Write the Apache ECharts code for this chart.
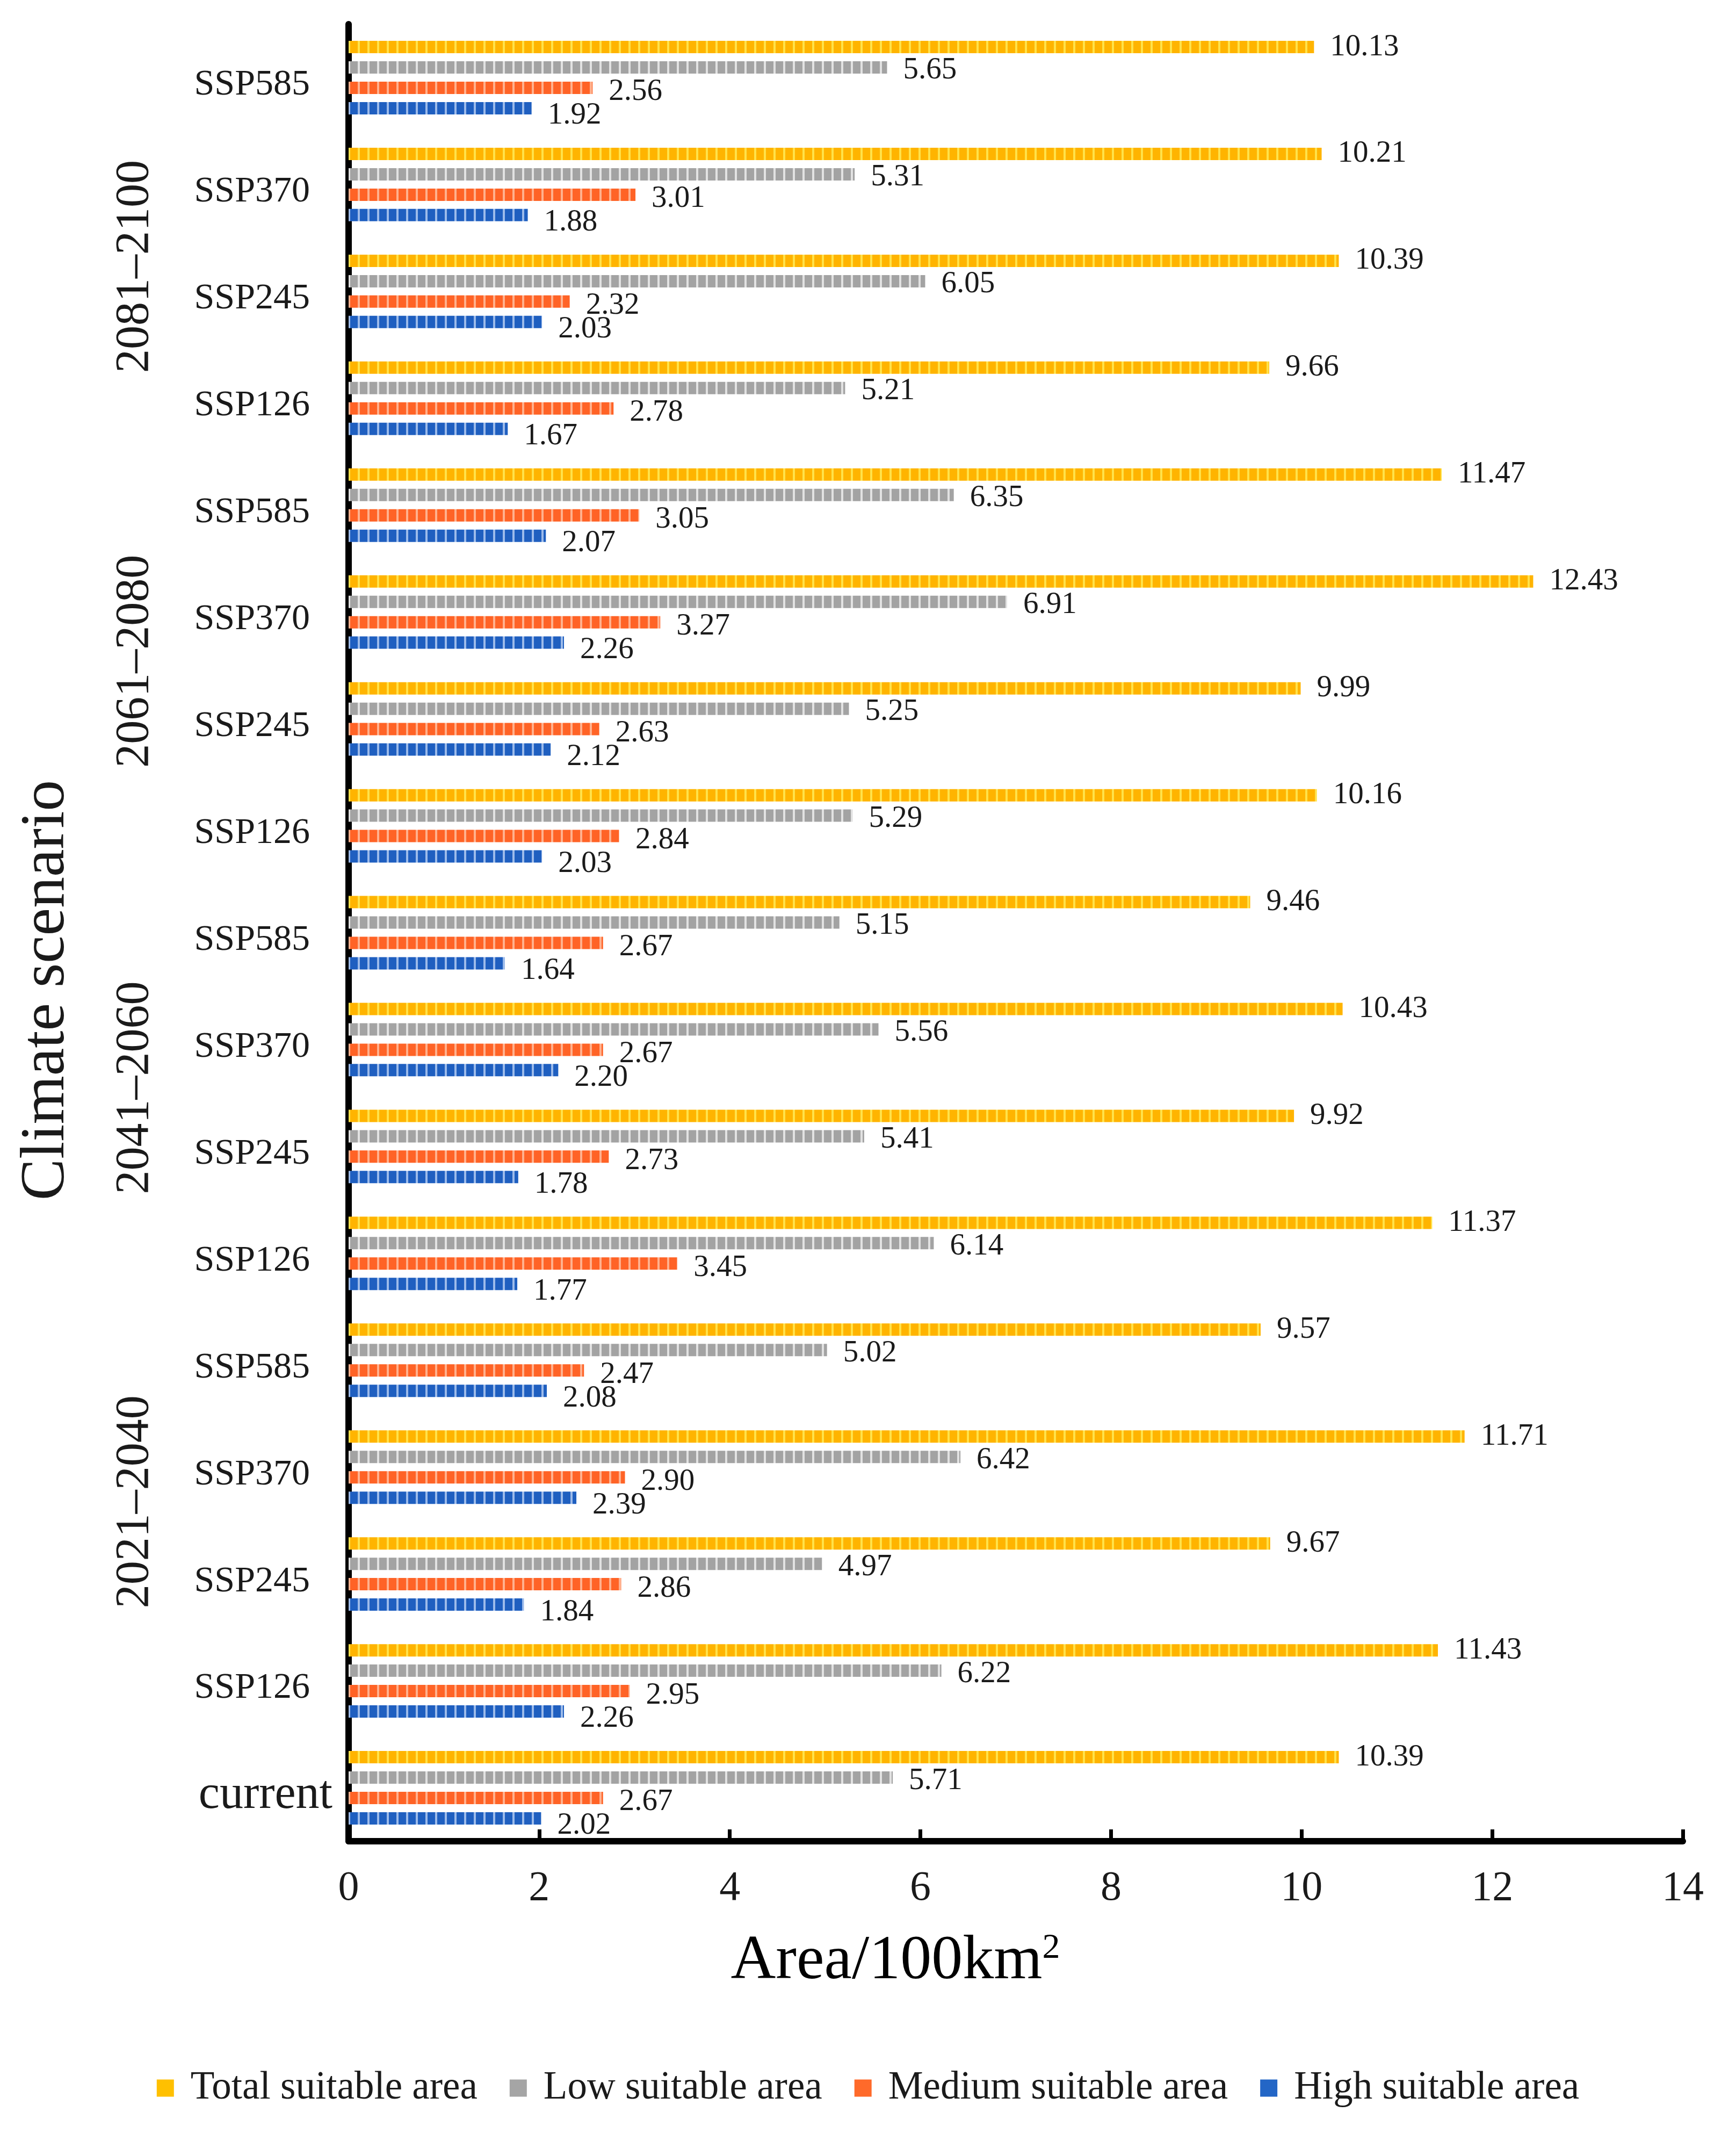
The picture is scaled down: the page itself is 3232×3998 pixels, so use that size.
<!DOCTYPE html>
<html><head><meta charset="utf-8">
<script src="https://cdn.jsdelivr.net/npm/echarts@6/dist/echarts.min.js"></script>
<style>html,body{margin:0;padding:0;background:#fff}#c{width:3232px;height:3998px}</style>
</head><body><div id="c"></div>
<script>
// Categories from bottom (current) to top
const categories = ['current',
  'SSP126','SSP245','SSP370','SSP585',
  'SSP126','SSP245','SSP370','SSP585',
  'SSP126','SSP245','SSP370','SSP585',
  'SSP126','SSP245','SSP370','SSP585'];
const periods = ['2021–2040','2041–2060','2061–2080','2081–2100'];
const seriesNames = ['Total suitable area','Low suitable area','Medium suitable area','High suitable area'];
const totalArea  = [10.39, 11.43, 9.67, 11.71, 9.57, 11.37, 9.92, 10.43, 9.46, 10.16, 9.99, 12.43, 11.47, 9.66, 10.39, 10.21, 10.13];
const lowArea    = [5.71, 6.22, 4.97, 6.42, 5.02, 6.14, 5.41, 5.56, 5.15, 5.29, 5.25, 6.91, 6.35, 5.21, 6.05, 5.31, 5.65];
const mediumArea = [2.67, 2.95, 2.86, 2.90, 2.47, 3.45, 2.73, 2.67, 2.67, 2.84, 2.63, 3.27, 3.05, 2.78, 2.32, 3.01, 2.56];
const highArea   = [2.02, 2.26, 1.84, 2.39, 2.08, 1.77, 1.78, 2.20, 1.64, 2.03, 2.12, 2.26, 2.07, 1.67, 2.03, 1.88, 1.92];
const xTicks = [0, 2, 4, 6, 8, 10, 12, 14];

const FONT = "'Liberation Serif','Times New Roman',serif";
const keys = categories.map((c, i) => i + '@' + c);

function stripe(base, line) {
  const cv = document.createElement('canvas');
  cv.width = 18; cv.height = 18;
  const g = cv.getContext('2d');
  g.fillStyle = base; g.fillRect(0, 0, 18, 18);
  g.fillStyle = line; g.fillRect(0, 0, 4, 18);
  return { image: cv, repeat: 'repeat' };
}
const solid = ['#FFC000', '#A5A5A5', '#FF6A2A', '#2366C6'];
const pats = [stripe('#FFB400', '#FFE24A'), stripe('#A3A3A3', '#E2E2E2'), stripe('#FF6326', '#FFB18E'), stripe('#1F5FC0', '#9DBBEA')];
const dataSets = [totalArea, lowArea, mediumArea, highArea];
const offs = [[0, 0], [0, 6], [0, 8], [0, 14]];

const chart = echarts.init(document.getElementById('c'), null, { renderer: 'canvas' });
const option = {
  backgroundColor: '#ffffff',
  animation: false,
  textStyle: { fontFamily: FONT },
  grid: { left: 649, right: 99, top: 45, bottom: 571, containLabel: false },
  legend: {
    bottom: 70, left: 'center', itemGap: 60, itemWidth: 32, itemHeight: 32, icon: 'rect',
    textStyle: { fontFamily: FONT, fontSize: 73, color: '#1a1a1a', padding: [0, 0, 0, 26] },
    data: seriesNames.map((n, i) => ({ name: n, itemStyle: { color: solid[i] } }))
  },
  xAxis: {
    type: 'value', min: 0, max: 14, interval: 2,
    axisLine: { show: true, lineStyle: { color: '#000', width: 12 } },
    axisTick: { show: true, inside: true, length: 22, lineStyle: { color: '#000', width: 7 } },
    splitLine: { show: false },
    axisLabel: { fontFamily: FONT, fontSize: 78, color: '#1a1a1a', margin: 50,
      customValues: xTicks, formatter: v => String(v) }
  },
  yAxis: {
    type: 'category', data: keys,
    axisLine: { show: true, lineStyle: { color: '#000', width: 12 } },
    axisTick: { show: false },
    axisLabel: {
      fontFamily: FONT, fontSize: 68, color: '#1a1a1a', margin: 30, padding: [28, 0, 0, 0],
      formatter: v => { const n = v.split('@')[1]; return n === 'current' ? '{cur|current}' : '{ssp|' + n + '}'; },
      rich: {
        cur: { fontFamily: FONT, fontSize: 88, color: '#1a1a1a' },
        ssp: { fontFamily: FONT, fontSize: 68, color: '#1a1a1a', padding: [0, 42, 0, 0] }
      }
    }
  },
  series: seriesNames.map((n, i) => ({
    name: n, type: 'bar', data: dataSets[i],
    barWidth: 23, barGap: '65%',
    itemStyle: { color: pats[i] },
    label: { show: true, position: 'right', distance: 30, offset: offs[i],
      fontFamily: FONT, fontSize: 57, color: '#1a1a1a',
      formatter: p => p.value.toFixed(2) }
  }))
};
chart.setOption(option);

// period labels & axis titles
const groupIdx = [[1, 4], [5, 8], [9, 12], [13, 16]];
const groupShift = [-35, -10, -8, 53];
const gfx = periods.map((p, i) => {
  const y = (chart.convertToPixel({ yAxisIndex: 0 }, keys[groupIdx[i][0]]) + chart.convertToPixel({ yAxisIndex: 0 }, keys[groupIdx[i][1]])) / 2 + groupShift[i];
  return { type: 'text', x: 252, y: y, rotation: Math.PI / 2,
    style: { text: p, font: '88px ' + FONT, fill: '#1a1a1a', align: 'center', verticalAlign: 'middle' } };
});
gfx.push({ type: 'text', x: 88, y: 1843, rotation: Math.PI / 2,
  style: { text: 'Climate scenario', font: '116px ' + FONT, fill: '#1a1a1a', align: 'center', verticalAlign: 'middle' } });
gfx.push({ type: 'text', x: 1667, y: 3652,
  style: { text: '{a|Area/100km}{s|2}', align: 'center', verticalAlign: 'middle',
    rich: { a: { fontFamily: FONT, fontSize: 116, color: '#1a1a1a' },
            s: { fontFamily: FONT, fontSize: 66, color: '#1a1a1a', verticalAlign: 'top', padding: [0, 0, 50, 0] } } } });
chart.setOption({ graphic: gfx });
</script></body></html>
